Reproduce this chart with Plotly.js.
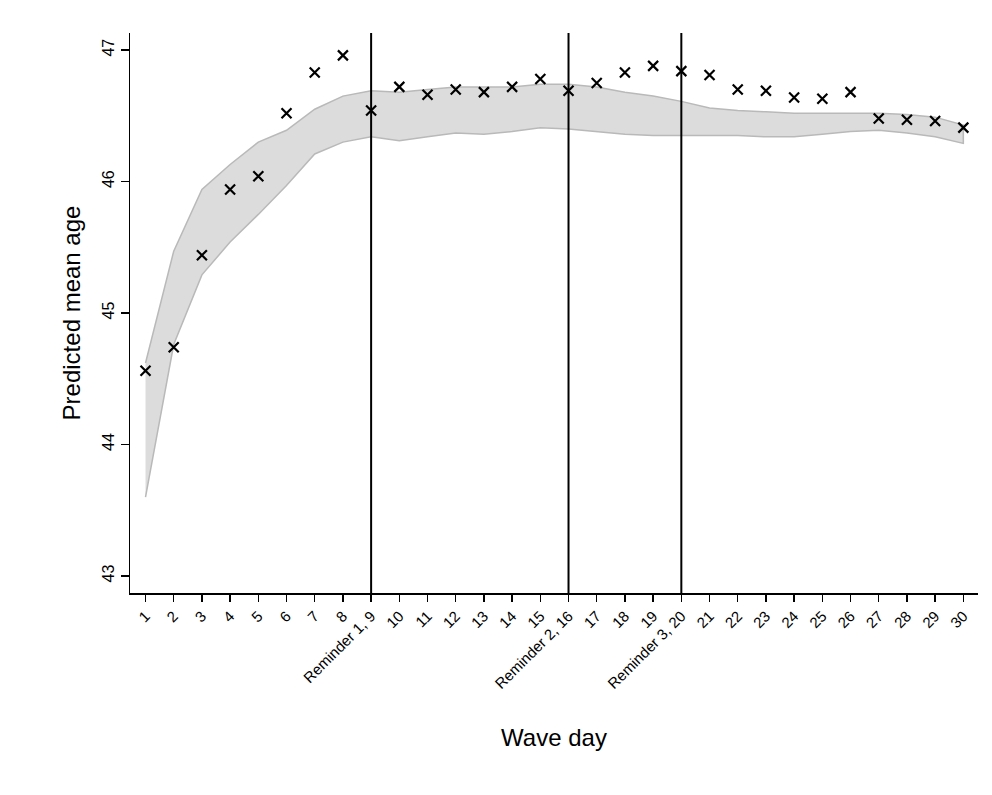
<!DOCTYPE html>
<html>
<head>
<meta charset="utf-8">
<script src="https://cdn.plot.ly/plotly-3.0.1.min.js"></script>
<style>html,body{margin:0;padding:0;background:#fff;}#chart{width:992px;height:795px;}</style>
</head>
<body>
<div id="chart"></div>
<script>
const days = [1,2,3,4,5,6,7,8,9,10,11,12,13,14,15,16,17,18,19,20,21,22,23,24,25,26,27,28,29,30];
const tickLabels = ["1","2","3","4","5","6","7","8","Reminder 1, 9","10","11","12","13","14","15","Reminder 2, 16","17","18","19","Reminder 3, 20","21","22","23","24","25","26","27","28","29","30"];
const observedMean = [44.56,44.74,45.44,45.94,46.04,46.52,46.83,46.96,46.54,46.72,46.66,46.70,46.68,46.72,46.78,46.69,46.75,46.83,46.88,46.84,46.81,46.70,46.69,46.64,46.63,46.68,46.48,46.47,46.46,46.41];
const bandUpper = [44.62,45.47,45.94,46.13,46.30,46.39,46.55,46.65,46.69,46.68,46.70,46.72,46.72,46.72,46.74,46.74,46.72,46.68,46.65,46.61,46.56,46.54,46.53,46.52,46.52,46.52,46.52,46.51,46.49,46.43];
const bandLower = [43.60,44.76,45.29,45.54,45.75,45.97,46.21,46.30,46.34,46.31,46.34,46.37,46.36,46.38,46.41,46.40,46.38,46.36,46.35,46.35,46.35,46.35,46.34,46.34,46.36,46.38,46.39,46.37,46.34,46.29];
const reminderDays = [9,16,20];
const yTicks = [43,44,45,46,47];

const font = "Arial, 'Liberation Sans', sans-serif";

const band = {
  x: days.concat(days.slice().reverse()),
  y: bandUpper.concat(bandLower.slice().reverse()),
  type: 'scatter', mode: 'lines', fill: 'toself',
  fillcolor: '#dcdcdc',
  line: {color: '#b9b9b9', width: 1.5},
  hoverinfo: 'skip', showlegend: false
};
const pts = {
  x: days, y: observedMean, type: 'scatter', mode: 'markers',
  marker: {symbol: 'x-thin', size: 10, color: '#000', line: {color: '#000', width: 2.2}},
  showlegend: false
};

const shapes = reminderDays.map(d => ({
  type: 'line', xref: 'x', yref: 'paper', x0: d, x1: d, y0: 0, y1: 1,
  line: {color: '#000', width: 2}
}));

const layout = {
  width: 992, height: 795,
  paper_bgcolor: '#fff', plot_bgcolor: '#fff',
  margin: {l: 130, r: 14, t: 33, b: 202},
  showlegend: false,
  shapes: shapes,
  xaxis: {
    range: [0.45, 30.52], tickmode: 'array', tickvals: days, ticktext: tickLabels,
    tickangle: -45, ticks: 'outside', ticklen: 7, tickwidth: 1.5, tickcolor: '#000',
    showline: true, linecolor: '#000', linewidth: 1.5, showgrid: false, zeroline: false,
    tickfont: {family: font, size: 15, color: '#000'},
    title: {text: 'Wave day', font: {family: font, size: 24, color: '#000'}, standoff: 38}
  },
  yaxis: {
    range: [42.87, 47.13], tickmode: 'array', tickvals: yTicks,
    tickangle: -90, ticks: 'outside', ticklen: 8, tickwidth: 1.5, tickcolor: '#000',
    showline: true, linecolor: '#000', linewidth: 1.5, showgrid: false, zeroline: false,
    tickfont: {family: font, size: 16, color: '#000'},
    title: {text: 'Predicted mean age', font: {family: font, size: 24, color: '#000'}, standoff: 12}
  }
};

Plotly.newPlot('chart', [band, pts], layout, {displayModeBar: false, staticPlot: true});
</script>
</body>
</html>
